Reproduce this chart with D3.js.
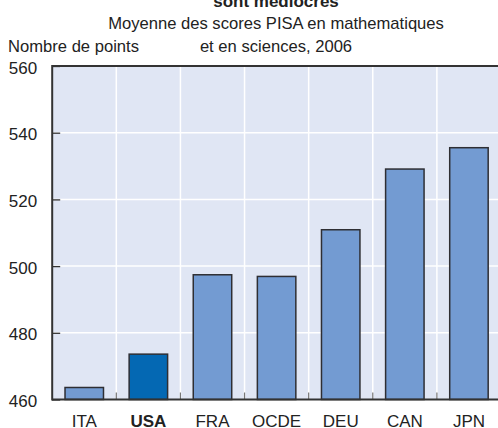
<!DOCTYPE html>
<html>
<head>
<meta charset="utf-8">
<script src="https://cdn.jsdelivr.net/npm/d3@7"></script>
<style>
  html, body { margin: 0; padding: 0; background: #fff; }
  svg { display: block; }
  text { font-family: "Liberation Sans", Arial, sans-serif; fill: #222; }
</style>
</head>
<body>
<svg id="chart" width="498" height="428"></svg>
<script>
const categories = ["ITA", "USA", "FRA", "OCDE", "DEU", "CAN", "JPN"];
const scores = [463.6, 473.6, 497.4, 496.9, 510.9, 529.1, 535.5];
const highlight = ["USA"];
const yTicks = [460, 480, 500, 520, 540, 560];
const titleLines = ["sont médiocres", "Moyenne des scores PISA en mathematiques", "et en sciences, 2006"];
const yAxisTitle = "Nombre de points";

(function () {
const svg = d3.select("#chart");
const pL = 52.2, pR = 501, pT = 66, pB = 399.5;

const x = d3.scaleBand().domain(categories).range([pL, pR]).paddingInner(0.4).paddingOuter(0.2);
const y = d3.scaleLinear().domain([460, 560]).range([pB, pT]);
const step = x.step();

// background
svg.append("rect").attr("x", pL).attr("y", pT).attr("width", pR - pL).attr("height", pB - pT).attr("fill", "#e0e6f4");

// horizontal gridlines
svg.append("g").selectAll("line").data(yTicks.slice(1, -1)).join("line")
  .attr("x1", pL).attr("x2", pR).attr("y1", d => y(d)).attr("y2", d => y(d))
  .attr("stroke", "#fff").attr("stroke-width", 1.5);
// vertical gridlines at band boundaries
const bounds = categories.slice(1).map(c => x(c) - x.paddingInner() * step / 2);
svg.append("g").selectAll("line").data(bounds).join("line")
  .attr("x1", d => d).attr("x2", d => d).attr("y1", pT).attr("y2", pB)
  .attr("stroke", "#fff").attr("stroke-width", 1.5);

// bars
svg.append("g").selectAll("rect").data(categories).join("rect")
  .attr("x", c => x(c)).attr("width", x.bandwidth())
  .attr("y", (c, i) => y(scores[i])).attr("height", (c, i) => pB - y(scores[i]))
  .attr("fill", c => highlight.includes(c) ? "#0468b3" : "#739bd2")
  .attr("stroke", "#2e2e33").attr("stroke-width", 1.5);

// bottom ticks (inward) at band boundaries
svg.append("g").selectAll("line").data(bounds).join("line")
  .attr("x1", d => d).attr("x2", d => d).attr("y1", pB).attr("y2", pB - 7)
  .attr("stroke", "#777").attr("stroke-width", 1.2);

// y axis via d3
const yAxis = d3.axisLeft(y).tickValues(yTicks).tickSize(-8).tickPadding(15).tickFormat(d3.format("d"));
const gy = svg.append("g").attr("transform", `translate(${pL},0)`).call(yAxis);
gy.select(".domain").remove();
gy.selectAll(".tick line").attr("stroke", "#333").attr("stroke-width", 1.3);
gy.selectAll(".tick text").attr("font-size", 17).attr("font-family", "Liberation Sans").attr("fill", "#222").attr("dy", "0.42em");

// x axis labels via d3
const xAxis = d3.axisBottom(x).tickSize(0).tickPadding(0);
const gx = svg.append("g").attr("transform", `translate(0,${pB})`).call(xAxis);
gx.select(".domain").remove();
gx.selectAll(".tick text").attr("font-size", 17).attr("font-family", "Liberation Sans").attr("fill", "#222")
  .attr("y", 27.5).attr("dy", 0)
  .attr("font-weight", d => highlight.includes(d) ? "bold" : "normal");

// frame lines
svg.append("line").attr("x1", pL).attr("x2", pR).attr("y1", pT).attr("y2", pT).attr("stroke", "#333").attr("stroke-width", 2);
svg.append("line").attr("x1", pL).attr("x2", pR).attr("y1", pB).attr("y2", pB).attr("stroke", "#333").attr("stroke-width", 2);
svg.append("line").attr("x1", pL).attr("x2", pL).attr("y1", pT - 1).attr("y2", pB + 1).attr("stroke", "#333").attr("stroke-width", 2);

// titles
const cx = 276;
svg.append("text").attr("x", cx).attr("y", 6.5).attr("text-anchor", "middle").attr("font-size", 17).attr("font-weight", "bold").text(titleLines[0]);
svg.append("text").attr("x", cx).attr("y", 29).attr("text-anchor", "middle").attr("font-size", 16.6).text(titleLines[1]);
svg.append("text").attr("x", cx).attr("y", 51.5).attr("text-anchor", "middle").attr("font-size", 16.6).text(titleLines[2]);
svg.append("text").attr("x", 8).attr("y", 51.5).attr("font-size", 16.6).text(yAxisTitle);
})();
</script>
</body>
</html>
